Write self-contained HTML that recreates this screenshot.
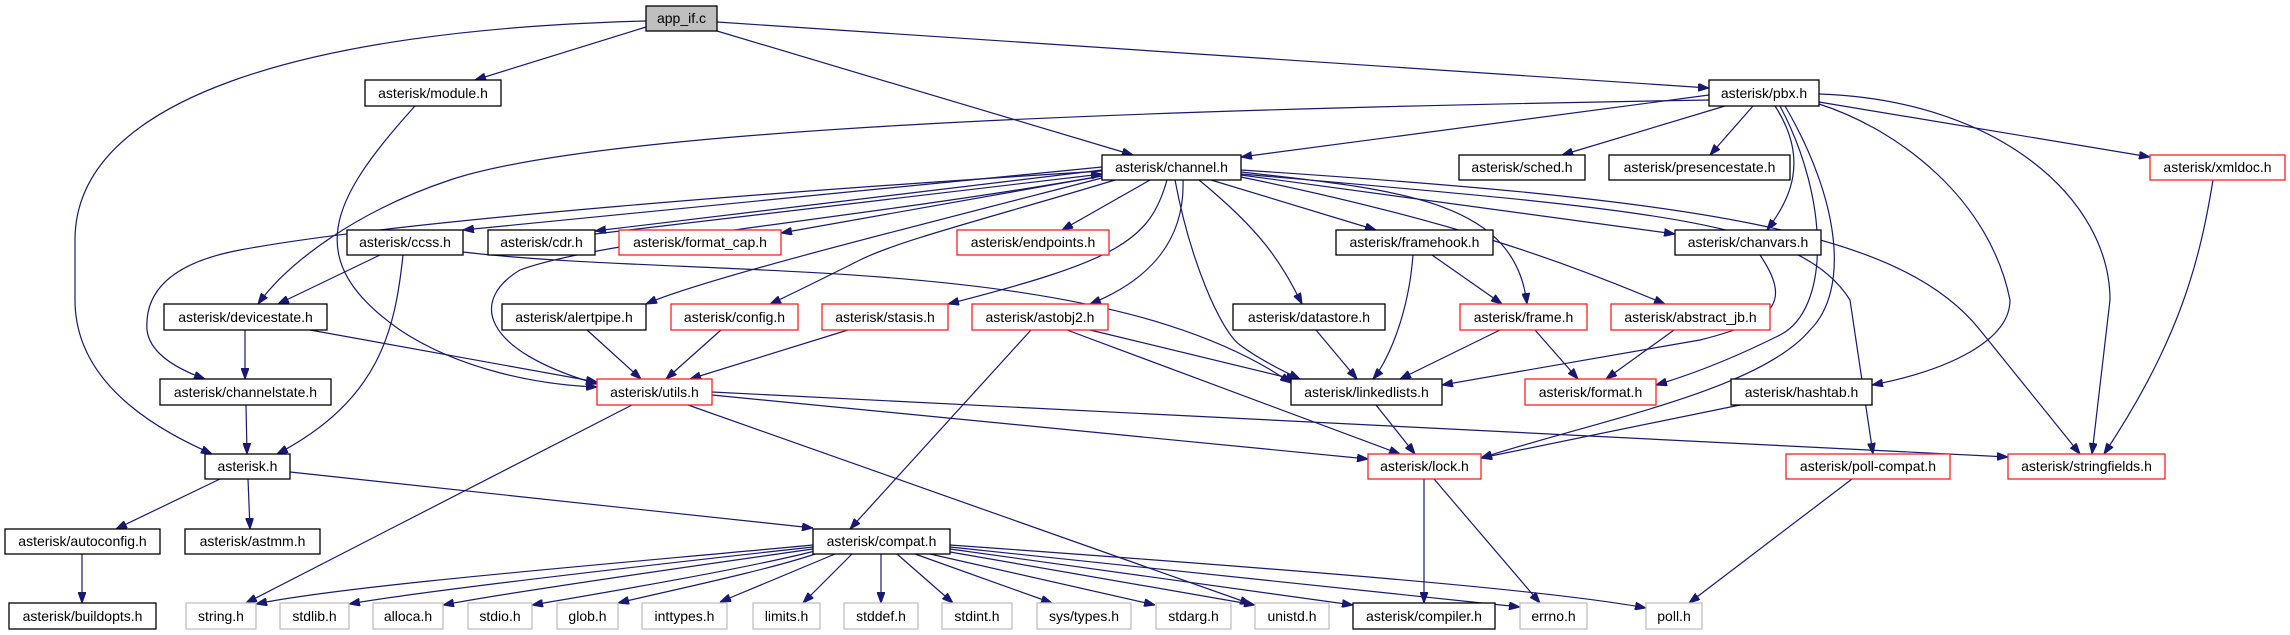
<!DOCTYPE html>
<html><head><meta charset="utf-8"><style>
html,body{margin:0;padding:0;background:#fff;}
svg{display:block}
text{font-family:"Liberation Sans",sans-serif;font-size:14px;text-anchor:middle;fill:#000}
.e{fill:none;stroke:#191970;stroke-width:1.2;marker-end:url(#a)}
.n{fill:#fff;stroke:#000;stroke-width:1.3}
.r{fill:#fff;stroke:#ff2020;stroke-width:1.3}
.g{fill:#fff;stroke:#bfbfbf;stroke-width:1.3}
</style></head><body>
<svg width="2290" height="635" viewBox="0 0 2290 635" xmlns="http://www.w3.org/2000/svg">
<defs><marker id="a" markerUnits="userSpaceOnUse" markerWidth="11" markerHeight="8" refX="11" refY="4" orient="auto"><path d="M0,0 L11,4 L0,8 z" fill="#191970" stroke="#191970"/></marker></defs>
<g>
<path class="e" d="M646,27 L475,80"/>
<path class="e" d="M646,21 C300,30 75,100 75,240 L75,300 C75,390 170,435 212,454"/>
<path class="e" d="M717,31 L1133,155"/>
<path class="e" d="M717,22 L1709,88"/>
<path class="e" d="M415,106 C330,200 300,260 400,330 C460,370 540,385 597,387"/>
<path class="e" d="M1709,95 L1241,157"/>
<path class="e" d="M1725,106 L1562,155"/>
<path class="e" d="M1753,106 L1710,155"/>
<path class="e" d="M1819,102 L2150,157"/>
<path class="e" d="M1775,106 C1810,160 1790,200 1767,230"/>
<path class="e" d="M1709,100 C1100,110 600,130 450,180 C360,210 290,260 258,304"/>
<path class="e" d="M1785,106 C1840,200 1850,290 1810,330 C1760,390 1600,420 1481,458"/>
<path class="e" d="M1780,106 C1830,200 1830,310 1780,335 C1740,355 1700,372 1656,385"/>
<path class="e" d="M1819,104 C1900,130 1990,200 2010,300 C2010,340 1950,370 1872,385"/>
<path class="e" d="M1819,94 C2000,100 2110,200 2110,300 L2092,454"/>
<path class="e" d="M2213,180 C2200,260 2180,340 2104,454"/>
<path class="e" d="M1102,167 L463,230"/>
<path class="e" d="M1102,170 L595,231"/>
<path class="e" d="M595,234 L1102,174"/>
<path class="e" d="M1102,176 L781,233"/>
<path class="e" d="M1150,180 L1062,230"/>
<path class="e" d="M1211,180 L1376,230"/>
<path class="e" d="M1241,175 L1675,234"/>
<path class="e" d="M1241,172 C1400,190 1515,200 1527,304"/>
<path class="e" d="M1241,177 C1450,220 1560,260 1665,304"/>
<path class="e" d="M1199,180 C1260,230 1280,260 1302,304"/>
<path class="e" d="M1183,180 C1185,240 1150,280 1090,304"/>
<path class="e" d="M1167,180 C1150,240 1120,260 948,304"/>
<path class="e" d="M1175,180 C1190,260 1220,330 1240,345 C1260,360 1285,372 1300,379"/>
<path class="e" d="M1115,180 C1000,215 900,240 860,260 C820,280 790,295 770,304"/>
<path class="e" d="M1102,178 C900,230 700,280 646,304"/>
<path class="e" d="M1102,176 C850,220 600,240 520,270 C470,300 480,350 597,384"/>
<path class="e" d="M1102,171 C800,190 400,220 240,250 C160,265 145,300 147,330 C150,355 180,370 205,379"/>
<path class="e" d="M1241,174 C1650,210 1800,220 1850,300 L1873,454"/>
<path class="e" d="M1241,170 C1700,200 1900,230 1980,330 L2080,454"/>
<path class="e" d="M380,255 L278,304"/>
<path class="e" d="M403,255 C395,330 380,400 277,454"/>
<path class="e" d="M463,252 C700,280 1100,250 1291,383"/>
<path class="e" d="M245,330 L245,379"/>
<path class="e" d="M310,330 L597,382"/>
<path class="e" d="M246,405 L247,454"/>
<path class="e" d="M587,330 L641,379"/>
<path class="e" d="M721,330 L666,379"/>
<path class="e" d="M848,330 L690,379"/>
<path class="e" d="M1031,330 L850,529"/>
<path class="e" d="M1067,330 L1400,454"/>
<path class="e" d="M1090,330 L1297,380"/>
<path class="e" d="M1316,330 L1357,379"/>
<path class="e" d="M1413,255 C1408,320 1385,365 1373,379"/>
<path class="e" d="M1432,255 L1502,304"/>
<path class="e" d="M1500,330 L1400,379"/>
<path class="e" d="M1535,330 L1578,379"/>
<path class="e" d="M1674,330 L1606,379"/>
<path class="e" d="M1760,255 C1790,300 1780,320 1700,340 L1442,385"/>
<path class="e" d="M1376,405 L1415,454"/>
<path class="e" d="M1740,405 L1481,458"/>
<path class="e" d="M632,405 L246,603"/>
<path class="e" d="M688,405 L1251,604"/>
<path class="e" d="M712,395 L1368,459"/>
<path class="e" d="M712,392 L2008,457"/>
<path class="e" d="M1424,479 L1424,603"/>
<path class="e" d="M1434,479 L1540,603"/>
<path class="e" d="M1852,479 L1689,603"/>
<path class="e" d="M220,479 L116,529"/>
<path class="e" d="M248,479 L250,529"/>
<path class="e" d="M290,472 L813,528"/>
<path class="e" d="M82,554 L82,603"/>
<path class="e" d="M813,545 C600,565 350,585 256,604"/>
<path class="e" d="M813,547 C650,565 430,590 349,604"/>
<path class="e" d="M813,549 C700,565 510,592 443,605"/>
<path class="e" d="M815,551 C740,570 590,595 532,605"/>
<path class="e" d="M818,553 C770,570 650,595 618,603"/>
<path class="e" d="M835,554 L720,602"/>
<path class="e" d="M852,554 L803,603"/>
<path class="e" d="M881,554 L881,603"/>
<path class="e" d="M897,554 L953,603"/>
<path class="e" d="M915,554 L1052,603"/>
<path class="e" d="M930,554 L1155,605"/>
<path class="e" d="M950,552 L1255,605"/>
<path class="e" d="M950,549 L1353,605"/>
<path class="e" d="M950,547 L1520,607"/>
<path class="e" d="M950,545 C1300,570 1550,590 1646,608"/>
</g>
<g>
<rect x="646" y="6" width="71" height="25" fill="#bfbfbf" stroke="#000" stroke-width="1.3"/><text x="681.5" y="23">app_if.c</text>
<rect class="n" x="365" y="80" width="136" height="26"/><text x="433" y="98">asterisk/module.h</text>
<rect class="n" x="1709" y="80" width="110" height="26"/><text x="1764" y="98">asterisk/pbx.h</text>
<rect class="n" x="1102" y="155" width="139" height="25"/><text x="1171.5" y="172">asterisk/channel.h</text>
<rect class="n" x="1459" y="155" width="126" height="25"/><text x="1522" y="172">asterisk/sched.h</text>
<rect class="n" x="1609" y="155" width="181" height="25"/><text x="1699.5" y="172">asterisk/presencestate.h</text>
<rect class="r" x="2150" y="155" width="135" height="25"/><text x="2217.5" y="172">asterisk/xmldoc.h</text>
<rect class="n" x="347" y="230" width="116" height="25"/><text x="405" y="247">asterisk/ccss.h</text>
<rect class="n" x="488" y="230" width="107" height="25"/><text x="541.5" y="247">asterisk/cdr.h</text>
<rect class="r" x="619" y="230" width="162" height="25"/><text x="700" y="247">asterisk/format_cap.h</text>
<rect class="r" x="957" y="230" width="152" height="25"/><text x="1033" y="247">asterisk/endpoints.h</text>
<rect class="n" x="1336" y="230" width="157" height="25"/><text x="1414.5" y="247">asterisk/framehook.h</text>
<rect class="n" x="1675" y="230" width="146" height="25"/><text x="1748" y="247">asterisk/chanvars.h</text>
<rect class="n" x="164" y="304" width="163" height="26"/><text x="245.5" y="322">asterisk/devicestate.h</text>
<rect class="n" x="502" y="304" width="144" height="26"/><text x="574" y="322">asterisk/alertpipe.h</text>
<rect class="r" x="671" y="304" width="127" height="26"/><text x="734.5" y="322">asterisk/config.h</text>
<rect class="r" x="822" y="304" width="126" height="26"/><text x="885" y="322">asterisk/stasis.h</text>
<rect class="r" x="972" y="304" width="136" height="26"/><text x="1040" y="322">asterisk/astobj2.h</text>
<rect class="n" x="1233" y="304" width="152" height="26"/><text x="1309" y="322">asterisk/datastore.h</text>
<rect class="r" x="1460" y="304" width="127" height="26"/><text x="1523.5" y="322">asterisk/frame.h</text>
<rect class="r" x="1611" y="304" width="159" height="26"/><text x="1690.5" y="322">asterisk/abstract_jb.h</text>
<rect class="n" x="160" y="379" width="171" height="26"/><text x="245.5" y="397">asterisk/channelstate.h</text>
<rect class="r" x="597" y="379" width="115" height="26"/><text x="654.5" y="397">asterisk/utils.h</text>
<rect class="n" x="1291" y="379" width="151" height="26"/><text x="1366.5" y="397">asterisk/linkedlists.h</text>
<rect class="r" x="1525" y="379" width="131" height="26"/><text x="1590.5" y="397">asterisk/format.h</text>
<rect class="n" x="1731" y="379" width="141" height="26"/><text x="1801.5" y="397">asterisk/hashtab.h</text>
<rect class="n" x="205" y="454" width="85" height="25"/><text x="247.5" y="471">asterisk.h</text>
<rect class="r" x="1368" y="454" width="113" height="25"/><text x="1424.5" y="471">asterisk/lock.h</text>
<rect class="r" x="1786" y="454" width="164" height="25"/><text x="1868" y="471">asterisk/poll-compat.h</text>
<rect class="r" x="2008" y="454" width="157" height="25"/><text x="2086.5" y="471">asterisk/stringfields.h</text>
<rect class="n" x="5" y="529" width="155" height="25"/><text x="82.5" y="546">asterisk/autoconfig.h</text>
<rect class="n" x="185" y="529" width="135" height="25"/><text x="252.5" y="546">asterisk/astmm.h</text>
<rect class="n" x="813" y="529" width="137" height="25"/><text x="881.5" y="546">asterisk/compat.h</text>
<rect class="n" x="9" y="603" width="147" height="26"/><text x="82.5" y="621">asterisk/buildopts.h</text>
<rect class="g" x="186" y="603" width="70" height="26"/><text x="221" y="621">string.h</text>
<rect class="g" x="280" y="603" width="69" height="26"/><text x="314.5" y="621">stdlib.h</text>
<rect class="g" x="373" y="603" width="70" height="26"/><text x="408" y="621">alloca.h</text>
<rect class="g" x="468" y="603" width="64" height="26"/><text x="500" y="621">stdio.h</text>
<rect class="g" x="557" y="603" width="61" height="26"/><text x="587.5" y="621">glob.h</text>
<rect class="g" x="642" y="603" width="85" height="26"/><text x="684.5" y="621">inttypes.h</text>
<rect class="g" x="753" y="603" width="67" height="26"/><text x="786.5" y="621">limits.h</text>
<rect class="g" x="844" y="603" width="74" height="26"/><text x="881" y="621">stddef.h</text>
<rect class="g" x="942" y="603" width="70" height="26"/><text x="977" y="621">stdint.h</text>
<rect class="g" x="1037" y="603" width="94" height="26"/><text x="1084" y="621">sys/types.h</text>
<rect class="g" x="1156" y="603" width="75" height="26"/><text x="1193.5" y="621">stdarg.h</text>
<rect class="g" x="1255" y="603" width="74" height="26"/><text x="1292" y="621">unistd.h</text>
<rect class="n" x="1353" y="603" width="142" height="26"/><text x="1424" y="621">asterisk/compiler.h</text>
<rect class="g" x="1520" y="603" width="67" height="26"/><text x="1553.5" y="621">errno.h</text>
<rect class="g" x="1646" y="603" width="56" height="26"/><text x="1674" y="621">poll.h</text>
</g>
</svg>
</body></html>
